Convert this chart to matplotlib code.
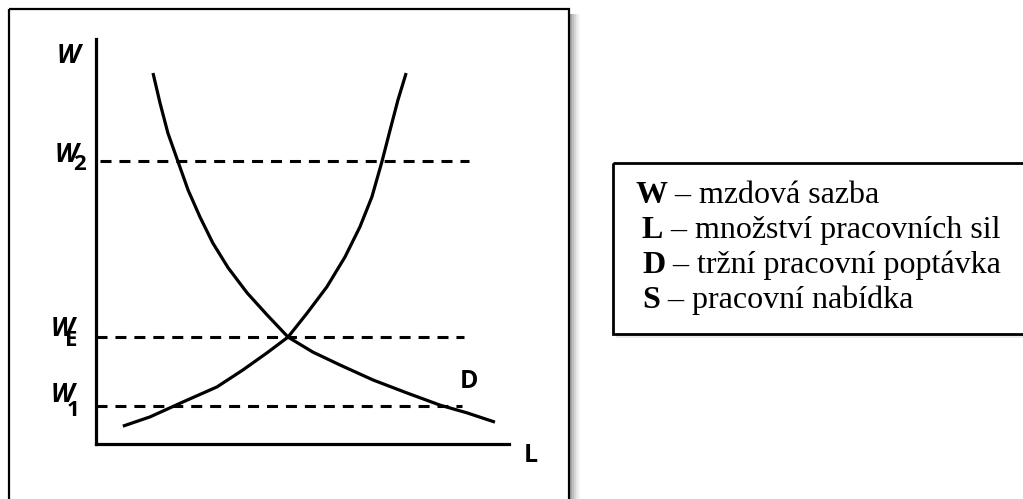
import matplotlib.pyplot as plt
from matplotlib.patches import Rectangle

# demand curve D (L, W)
demand_L = [1.38, 1.55, 1.74, 1.99, 2.23, 2.52, 2.83, 3.20, 3.66, 4.14, 4.65,
            5.25, 5.91, 6.71, 7.53, 8.33, 8.98, 9.66]
demand_W = [9.16, 8.42, 7.68, 6.96, 6.27, 5.60, 4.96, 4.35, 3.73, 3.19, 2.64,
            2.27, 1.95, 1.58, 1.26, 0.96, 0.77, 0.54]

# supply curve S
supply_L = [0.65, 1.31, 2.11, 2.93, 3.56, 4.14, 4.65, 5.11, 5.59, 6.03, 6.39,
            6.68, 6.92, 7.12, 7.31, 7.51]
supply_W = [0.44, 0.67, 1.04, 1.41, 1.83, 2.25, 2.64, 3.23, 3.88, 4.62, 5.36,
            6.10, 6.96, 7.75, 8.49, 9.16]

# wage levels W2, WE, W1 and where the dashed lines run
wage_levels = [6.99, 2.64, 0.94]
wage_subs = ["2", "E", "1"]
wage_start = [0.10, 0.0, 0.0]
wage_end = [9.03, 8.91, 8.86]

legend_keys = ["W", "L", "D", "S"]
legend_texts = ["mzdová sazba", "množství pracovních sil",
                "tržní pracovní poptávka", "pracovní nabídka"]

W_PX, H_PX = 1023, 499
fig = plt.figure(figsize=(W_PX / 100, H_PX / 100), dpi=100)

# background layer in pixel coordinates
bg = fig.add_axes([0, 0, 1, 1])
bg.set_xlim(0, W_PX)
bg.set_ylim(H_PX, 0)
bg.axis("off")

# soft shadow right of the chart frame
for i, a in enumerate([0.35, 0.25, 0.16, 0.09, 0.04]):
    bg.add_patch(Rectangle((570 + 2 * i, 14), 2, 520, color="black", alpha=a, lw=0))
bg.add_patch(Rectangle((9, 9), 560, 530, fill=False, ec="black", lw=1.6))

# legend box (right edge runs off the picture)
for i, a in enumerate([0.18, 0.08]):
    bg.add_patch(Rectangle((616, 334 + 2 * i), 420, 2, color="black", alpha=a, lw=0))
bg.add_patch(Rectangle((613, 163), 430, 171, fill=False, ec="black", lw=2.0))

serif = "Liberation Serif"
xs = [635, 642, 642, 642]
ys = [203, 238, 273, 308]
for k, t, x, y in zip(legend_keys, legend_texts, xs, ys):
    key = bg.text(x, y, k, fontsize=23, family=serif, weight="bold", va="baseline")
    bg.annotate(" – " + t, xy=(1, 0), xycoords=key, va="bottom", ha="left",
                fontsize=23, family=serif)

# axis labels
sans = "Open Sans"
bg.text(68, 55, "W", fontsize=19, family=sans, weight="bold", style="italic",
        ha="center", va="center")
bg.text(531, 456, "L", fontsize=18, family=sans, weight="bold", ha="center", va="center")
bg.text(469, 381, "D", fontsize=18, family=sans, weight="bold", ha="center", va="center")

# wage labels W2, WE, W1
lab_x = [66, 62, 62]
lab_y = [154, 328, 394]
sub_x = [80, 71, 73]
sub_y = [164, 341, 411]
for s, x, y, sx, sy in zip(wage_subs, lab_x, lab_y, sub_x, sub_y):
    bg.text(x, y, "W", fontsize=19, family=sans, weight="bold", style="italic",
            ha="center", va="center")
    bg.text(sx, sy, s, fontsize=16, family=sans, weight="bold", ha="center", va="center")

# chart area in data units
ax = fig.add_axes([96 / W_PX, 1 - 444 / H_PX, (509 - 96) / W_PX, (444 - 39) / H_PX])
ax.patch.set_alpha(0)
ax.set_xlim(0, 10)
ax.set_ylim(0, 10)
for side in ["top", "right"]:
    ax.spines[side].set_visible(False)
for side in ["left", "bottom"]:
    ax.spines[side].set_linewidth(2.3)
ax.set_xticks([])
ax.set_yticks([])

for lvl, x0, x1 in zip(wage_levels, wage_start, wage_end):
    ax.plot([x0, x1], [lvl, lvl], color="black", lw=2.2, dashes=(3.6, 2.6),
            solid_capstyle="butt", dash_capstyle="butt", clip_on=False)

ax.plot(demand_L, demand_W, color="black", lw=2.3, solid_joinstyle="round",
        solid_capstyle="butt", clip_on=False)
ax.plot(supply_L, supply_W, color="black", lw=2.3, solid_joinstyle="round",
        solid_capstyle="butt", clip_on=False)

fig.savefig("out.png", dpi=100)
